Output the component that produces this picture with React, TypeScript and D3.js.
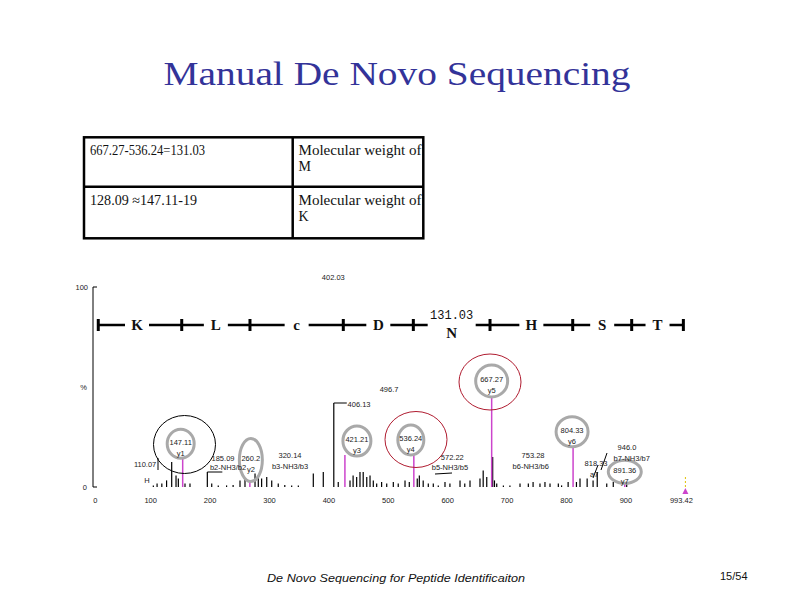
import React from 'react';
import * as d3 from 'd3';

// spectrum: noise peaks (m/z, % intensity)
const noiseMz = [97.7, 104, 112, 120, 128.6, 135.9, 139.8, 151, 159.4, 188.6, 196, 207, 221, 232, 243.6, 252, 268.9, 274.4, 280, 288.6, 297, 308, 319, 330.6, 341.8, 367, 383.8, 401.5, 409, 428.8, 434, 440, 445.6, 451, 457, 462.5, 468, 473.7, 482, 490.6, 501.7, 510, 521.4, 528.6, 542, 545.5, 552, 560.6, 569, 577.4, 588.7, 597, 614, 622, 630.8, 647.6, 653, 659, 669, 672, 675.8, 687, 698, 715, 729, 737, 748.6, 757, 765.5, 779.5, 785, 796, 810, 816, 828, 838, 845, 861, 872, 894.6];
const noiseInt = [0.8, 1.7, 1.7, 3.3, 12.5, 5.8, 4.2, 1.7, 1.7, 7.5, 1.7, 0.8, 0.8, 1, 3.3, 4.2, 6.7, 5.8, 4.2, 5, 3.3, 1.7, 1, 0.8, 0.8, 6.7, 7.5, 42, 2.5, 3.3, 5.8, 5, 7.5, 7.5, 5, 5.8, 3.3, 1.7, 2.5, 1.7, 2.5, 1.7, 3.3, 2.5, 4.2, 5.8, 3.3, 1.7, 1.7, 0.8, 2.5, 1.7, 3.3, 1.7, 3.3, 4.2, 8.3, 5, 15, 3.3, 1.7, 0.8, 0.8, 1.7, 1.7, 2.5, 1.7, 2.5, 1.7, 1.7, 0.8, 2.5, 2.5, 4.2, 4.2, 3.3, 7.5, 1.7, 2.5, 1.7];

// annotated y ions (magenta)
const ionMz = [147.11, 260.19, 420.22, 536.24, 667.27, 804.33, 891.36];
const ionInt = [14.3, 2.5, 16, 16, 44.5, 20, 2];
const ionValue = ['147.11', '260.2', '421.21', '536.24', '667.27', '804.33', '891.36'];
const ionName = ['y1', 'y2', 'y3', 'y4', 'y5', 'y6', 'y7'];
const ionLabelInt = [21.6, 13.5, 23, 23.5, 53, 27.6, 7.6];
const ionLabelDx = [-2, 1, 12, -3, 0, -1, 0];
const ionRx = [13.5, 11.5, 14, 13, 16, 16, 16.5];
const ionRy = [14.5, 21.5, 15, 15, 16, 15, 11.5];

// other peak labels: text, m/z position, intensity position
const fragText = ['402.03', '496.7', '406.13', '110.07', 'H', '185.09', 'b2-NH3/b2', '320.14', 'b3-NH3/b3', '572.22', 'b5-NH3/b5', '753.28', 'b6-NH3/b6', '818.33', 'a7', '946.0', 'b7-NH3/b7'];
const fragMz = [400.7, 494.6, 444, 83.8, 87, 215, 223.5, 327.8, 327.8, 601, 597, 736.9, 733, 843, 840, 895, 903];
const fragInt = [105, 49, 41.5, 11.5, 3.5, 14.5, 10, 16, 10.5, 15, 10, 16, 10.5, 12, 6.5, 20, 14.5];

// sequence ladder
const ladderMz = [5, 145.5, 260.4, 417.5, 535.4, 664.5, 803.7, 903, 990];
const residues = ['K', 'L', 'c', 'D', 'N', 'H', 'S', 'T'];

const xTicks = [0, 100, 200, 300, 400, 500, 600, 700, 800, 900, 993.42];

const tableRows = [
  ['667.27-536.24=131.03', 'Molecular weight of', 'M'],
  ['128.09 \u2248147.11-19', 'Molecular weight of', 'K'],
];

export default function App() {
  const x = d3.scaleLinear().domain([0, 993.42]).range([95.3, 685.4]);
  const y = d3.scaleLinear().domain([0, 100]).range([487, 287]);
  const magenta = '#cc44cc';
  const grey = '#a9a9a9';
  const small = { fontFamily: 'Liberation Sans, Arial, sans-serif', fontSize: 7.5, fill: '#222' };
  const ladderY = 325;

  return (
    <svg width={794} height={595} style={{ position: 'absolute', left: 0, top: 0, background: '#fff' }}>
      {/* title */}
      <text x={397} y={85} textAnchor="middle" fontFamily="Liberation Serif, serif" fontSize={34}
        fill="#333399" textLength={467} lengthAdjust="spacingAndGlyphs">Manual De Novo Sequencing</text>

      {/* table */}
      <g fontFamily="Liberation Serif, serif" fontSize={14} fill="#111">
        <rect x={84} y={137.3} width={339.3} height={101} fill="none" stroke="#000" strokeWidth={2.5} />
        <line x1={292.7} x2={292.7} y1={137.3} y2={238.3} stroke="#000" strokeWidth={2.5} />
        <line x1={84} x2={423.3} y1={186.7} y2={186.7} stroke="#000" strokeWidth={2.5} />
        {tableRows.map((r, i) => (
          <g key={i}>
            <text x={90} y={155 + i * 50} textLength={i === 0 ? 115 : 107} lengthAdjust="spacingAndGlyphs">{r[0]}</text>
            <text x={298.5} y={155 + i * 50} textLength={123} lengthAdjust="spacingAndGlyphs">{r[1]}</text>
            <text x={298.5} y={170.5 + i * 50}>{r[2]}</text>
          </g>
        ))}
      </g>

      {/* y axis */}
      <line x1={93} x2={93} y1={y(100)} y2={y(0)} stroke="#000" strokeWidth={1} />
      <line x1={93} x2={97} y1={y(100)} y2={y(100)} stroke="#000" />
      <line x1={93} x2={97} y1={y(0)} y2={y(0)} stroke="#000" />
      <text {...small} x={88} y={y(100) + 3} textAnchor="end">100</text>
      <text {...small} x={87} y={y(50) + 3} textAnchor="end">%</text>
      <text {...small} x={87} y={y(0) + 3} textAnchor="end">0</text>

      {/* x tick labels */}
      {xTicks.map((t, i) => (
        <text key={i} {...small} x={x(t) - (t === 0 ? 0 : 4)} y={503} textAnchor="middle">
          {t === 993.42 ? '993.42' : String(t)}
        </text>
      ))}

      {/* noise peaks */}
      {noiseMz.map((m, i) => (
        <line key={i} x1={x(m)} x2={x(m)} y1={y(0)} y2={y(noiseInt[i])} stroke="#000" strokeWidth={1.2} />
      ))}

      {/* leader lines */}
      <g stroke="#000" strokeWidth={1} fill="none">
        <line x1={x(401.5)} x2={x(401.5) + 13} y1={y(42)} y2={y(42)} />
        <line x1={158} x2={158} y1={458} y2={470} />
        <line x1={x(188.6)} x2={x(188.6) + 15} y1={472} y2={472} />
        <line x1={435} x2={452} y1={474} y2={473} />
        <line x1={601} x2={607} y1={470} y2={453} />
        <line x1={593} x2={598} y1={478} y2={465} />
      </g>

      {/* ion peaks + labels */}
      {ionMz.map((m, i) => {
        const cx = x(m) + ionLabelDx[i];
        const cy = y(ionLabelInt[i]);
        return (
          <g key={i}>
            <line x1={x(m)} x2={x(m)} y1={y(0)} y2={y(ionInt[i])} stroke={magenta} strokeWidth={1.5} />
            <ellipse cx={cx} cy={cy} rx={ionRx[i]} ry={ionRy[i]} fill="none" stroke={grey} strokeWidth={3} />
            <text {...small} x={cx} y={cy + 1} textAnchor="middle">{ionValue[i]}</text>
            <text {...small} x={cx} y={cy + 12} textAnchor="middle">{ionName[i]}</text>
          </g>
        );
      })}

      {/* highlight circles */}
      <ellipse cx={184.5} cy={444.5} rx={31} ry={29} fill="none" stroke="#000" strokeWidth={1} />
      <ellipse cx={416} cy={439.5} rx={31} ry={28} fill="none" stroke="#b01c30" strokeWidth={1} />
      <ellipse cx={490} cy={382} rx={31} ry={28} fill="none" stroke="#b01c30" strokeWidth={1} />

      {/* other labels */}
      {fragText.map((t, i) => (
        <text key={i} {...small} x={x(fragMz[i])} y={y(fragInt[i]) + 3} textAnchor="middle">{t}</text>
      ))}

      {/* precursor marker */}
      <line x1={x(993.42)} x2={x(993.42)} y1={477} y2={487} stroke="#e0c000" strokeWidth={1} strokeDasharray="2,2" />
      <path d={`M${x(993.42) - 3},${494} L${x(993.42) + 3},${494} L${x(993.42)},${488} Z`} fill={magenta} />

      {/* sequence ladder */}
      <line x1={x(ladderMz[0])} x2={x(ladderMz[ladderMz.length - 1])} y1={ladderY} y2={ladderY} stroke="#000" strokeWidth={2.5} />
      {residues.map((r, i) => {
        const cx = (x(ladderMz[i]) + x(ladderMz[i + 1])) / 2 - (i === 0 ? 3 : 0);
        const isN = r === 'N';
        return (
          <g key={r}>
            <rect x={cx - (isN ? 24 : 12)} y={ladderY - 8} width={isN ? 48 : 24} height={16} fill="#fff" />
            {isN && (
              <text x={cx} y={ladderY - 6} textAnchor="middle" fontFamily="Liberation Mono, monospace" fontSize={12} fill="#111">131.03</text>
            )}
            <text x={cx} y={ladderY + (isN ? 13 : 5)} textAnchor="middle" fontFamily="Liberation Serif, serif"
              fontWeight="bold" fontSize={15} fill="#111">{r}</text>
          </g>
        );
      })}
      {ladderMz.map((m, i) => (
        <line key={i} x1={x(m)} x2={x(m)} y1={ladderY - 6} y2={ladderY + 6} stroke="#000" strokeWidth={3} />
      ))}

      {/* footer */}
      <text x={267} y={582} fontFamily="Liberation Sans, sans-serif" fontStyle="italic" fontSize={11.5}
        fill="#111" textLength={258} lengthAdjust="spacingAndGlyphs">De Novo Sequencing for Peptide Identificaiton</text>
      <text x={720} y={580} fontFamily="Liberation Sans Narrow, Liberation Sans, sans-serif" fontSize={11} fill="#111">15/54</text>
    </svg>
  );
}
